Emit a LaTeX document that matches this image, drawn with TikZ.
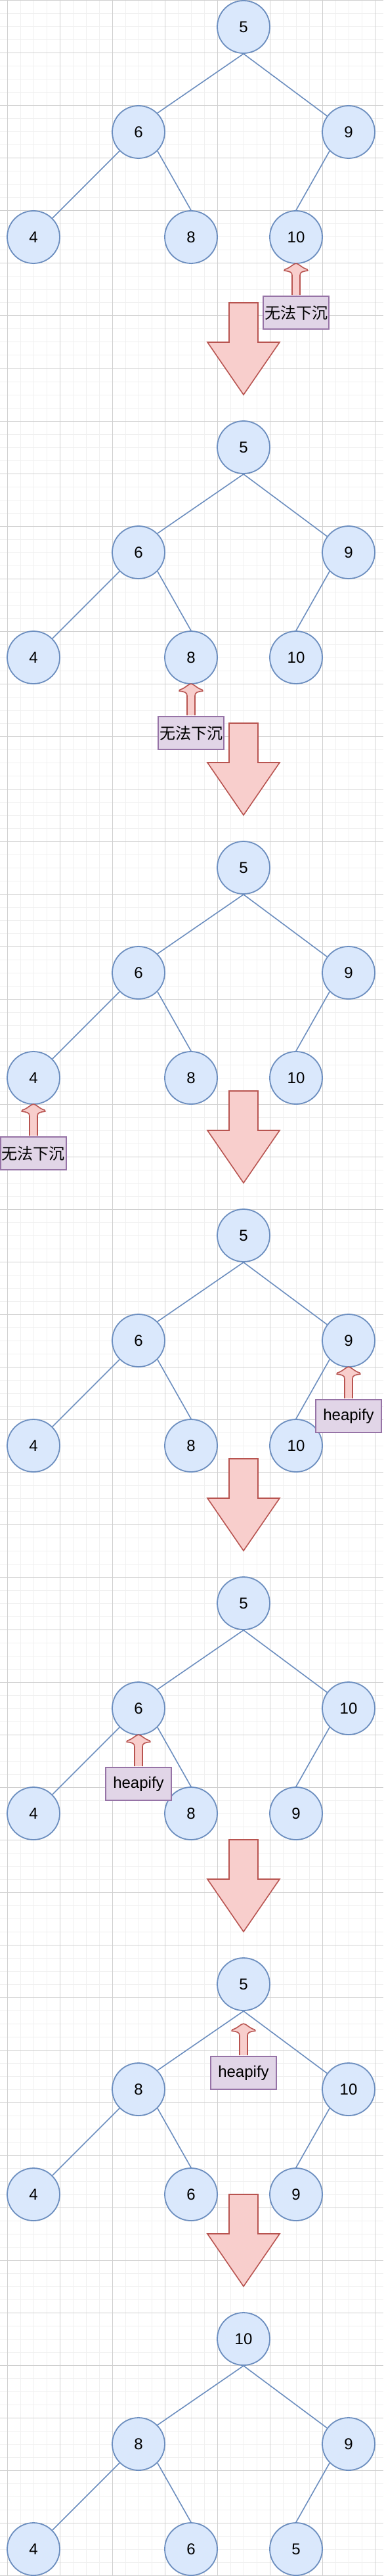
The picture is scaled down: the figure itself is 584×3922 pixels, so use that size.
\documentclass[tikz,border=0pt]{standalone}
\usepackage{fontspec}
\setmainfont{Liberation Sans}
\newfontfamily\cjk{Noto Sans CJK SC}
\definecolor{nodefill}{HTML}{DAE8FC}
\definecolor{nodeline}{HTML}{6C8EBF}
\definecolor{boxfill}{HTML}{E1D5E7}
\definecolor{boxline}{HTML}{9673A6}
\definecolor{arrfill}{HTML}{F8CECC}
\definecolor{arrline}{HTML}{B85450}
\definecolor{gridmajor}{HTML}{D0D0D0}
\definecolor{gridminor}{HTML}{F0F0F0}
\tikzset{
  hnode/.style={circle,draw=nodeline,fill=nodefill,line width=0.9pt,minimum size=40pt,inner sep=0pt,font=\fontsize{12}{14}\selectfont},
  tedge/.style={draw=nodeline,line width=0.8pt},
  labbox/.style={rectangle,draw=boxline,fill=boxfill,line width=0.9pt,minimum width=50pt,minimum height=25pt,inner sep=0pt,font=\fontsize{12}{14}\selectfont},
  arrsty/.style={draw=arrline,fill=arrfill,line width=0.8pt,line join=miter},
  flexup/.pic={
    \fill[arrfill] (-6,-1) -- (-6,-31) .. controls (-6,-36) and (-10,-37) .. (-18,-38) -- (-17,-40) .. controls (-9,-42) and (-4,-49) .. (0,-49) .. controls (4,-49) and (9,-42) .. (17,-40) -- (18,-38) .. controls (10,-37) and (6,-36) .. (6,-31) -- (6,-1) -- cycle;
    \draw[draw=arrline,line width=0.8pt,line join=round] (-6,-1) -- (-6,-31) .. controls (-6,-36) and (-10,-37) .. (-18,-38) -- (-17,-40) .. controls (-9,-42) and (-4,-49) .. (0,-49) .. controls (4,-49) and (9,-42) .. (17,-40) -- (18,-38) .. controls (10,-37) and (6,-36) .. (6,-31) -- (6,-1);
  },
  bigdown/.pic={
    \draw[arrsty] (-22,0) -- (22,0) -- (22,60) -- (55,60) -- (0,140) -- (-55,60) -- (-22,60) -- cycle;
  }
}
% #1 prefix, #2 root y, #3 root, #4 left, #5 right, #6 left-left, #7 left-right, #8 right-left
\newcommand\drawheap[8]{%
  \node[hnode] (#1a) at (371,#2) {#3};
  \node[hnode] (#1b) at (211,{#2+160}) {#4};
  \node[hnode] (#1c) at (531,{#2+160}) {#5};
  \node[hnode] (#1d) at (51,{#2+320}) {#6};
  \node[hnode] (#1e) at (291,{#2+320}) {#7};
  \node[hnode] (#1f) at (451,{#2+320}) {#8};
  \draw[tedge] (#1a.south) -- (#1b.north east);
  \draw[tedge] (#1a.south) -- (#1c);
  \draw[tedge] (#1b) -- (#1d);
  \draw[tedge] (#1b.south east) -- (#1e.north);
  \draw[tedge] (#1c.south west) -- (#1f.north);
}
\begin{document}
\begin{tikzpicture}[x=0.5pt,y=-0.5pt]
\useasboundingbox (0,0) rectangle (584,3922);
\fill[white] (0,0) rectangle (584,3922);
% grid
\foreach \gx in {11,31,...,571} \draw[gridminor,line width=0.5pt] (\gx,0) -- (\gx,3922);
\foreach \gy in {1,21,...,3921} \draw[gridminor,line width=0.5pt] (0,\gy) -- (584,\gy);
\foreach \gx in {11,91,...,571} \draw[gridmajor,line width=0.5pt] (\gx,0) -- (\gx,3922);
\foreach \gy in {1,81,...,3921} \draw[gridmajor,line width=0.5pt] (0,\gy) -- (584,\gy);

% trees
\drawheap{ta}{41}{5}{6}{9}{4}{8}{10}
\drawheap{tb}{681}{5}{6}{9}{4}{8}{10}
\drawheap{tc}{1321}{5}{6}{9}{4}{8}{10}
\drawheap{td}{1881}{5}{6}{9}{4}{8}{10}
\drawheap{te}{2441}{5}{6}{10}{4}{8}{9}
\drawheap{tf}{3021}{5}{8}{10}{4}{6}{9}
\drawheap{tg}{3561}{10}{8}{9}{4}{6}{5}

% big step arrows
\pic at (371,461) {bigdown};
\pic at (371,1101) {bigdown};
\pic at (371,1661) {bigdown};
\pic at (371,2221) {bigdown};
\pic at (371,2801) {bigdown};
\pic at (371,3341) {bigdown};

% labels with small arrows
\node[labbox] (la) at (451,476) {\cjk 无法下沉};
\pic at (la.north) {flexup};
\node[labbox] (lb) at (291,1116) {\cjk 无法下沉};
\pic at (lb.north) {flexup};
\node[labbox] (lc) at (51,1756) {\cjk 无法下沉};
\pic at (lc.north) {flexup};
\node[labbox] (ld) at (531,2156) {heapify};
\pic at (ld.north) {flexup};
\node[labbox] (le) at (211,2716) {heapify};
\pic at (le.north) {flexup};
\node[labbox] (lf) at (371,3156) {heapify};
\pic at (lf.north) {flexup};
\end{tikzpicture}
\end{document}
